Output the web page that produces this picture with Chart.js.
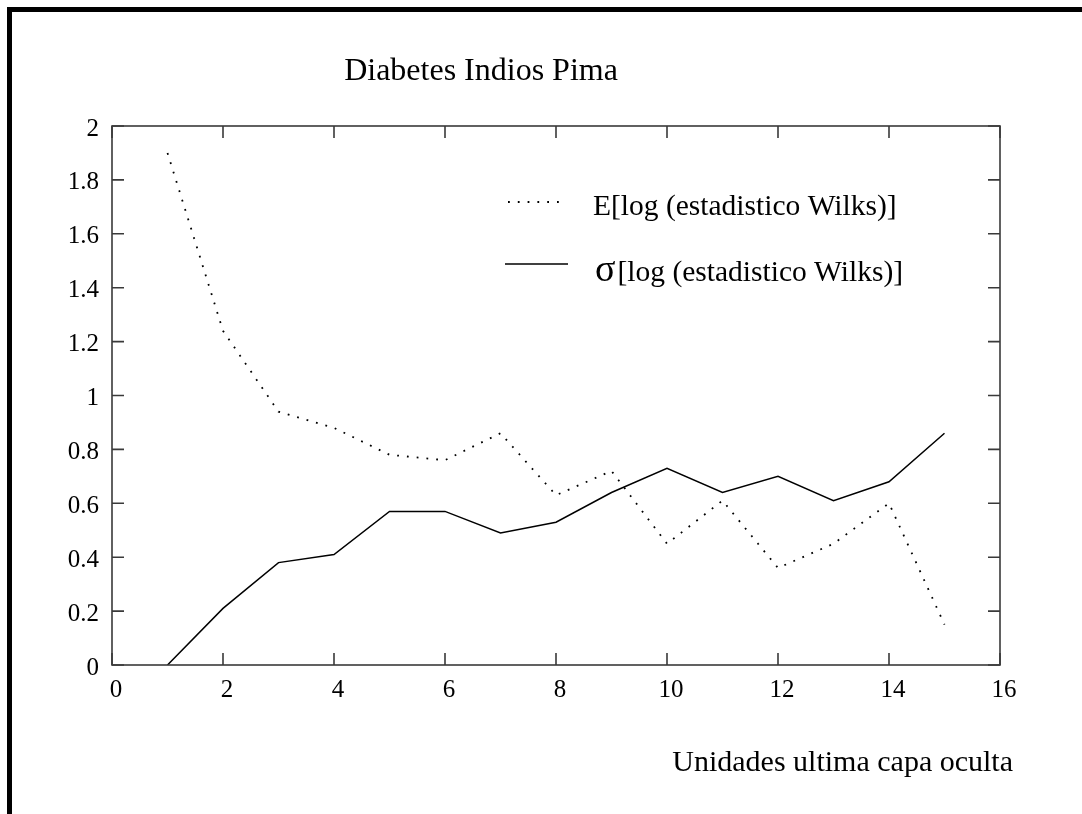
<!DOCTYPE html>
<html>
<head>
<meta charset="utf-8">
<title>Diabetes Indios Pima</title>
<script src="https://cdn.jsdelivr.net/npm/chart.js@4"></script>
<style>
  html, body { margin: 0; padding: 0; background: #ffffff; }
  #wrap { position: relative; width: 1082px; height: 814px; }
  canvas { display: block; }
</style>
</head>
<body>
<div id="wrap"><canvas id="chart" width="1082" height="814"></canvas></div>
<script>
// Hidden units in the last layer (x axis)
const units = [1, 2, 3, 4, 5, 6, 7, 8, 9, 10, 11, 12, 13, 14, 15];
// Mean of log(Wilks statistic)
const meanLogWilks = [1.90, 1.24, 0.94, 0.88, 0.78, 0.76, 0.86, 0.63, 0.72, 0.45, 0.61, 0.36, 0.45, 0.60, 0.15];
// Standard deviation of log(Wilks statistic)
const sdLogWilks = [0.00, 0.21, 0.38, 0.41, 0.57, 0.57, 0.49, 0.53, 0.64, 0.73, 0.64, 0.70, 0.61, 0.68, 0.86];

const titleText = 'Diabetes Indios Pima';
const xTitleText = 'Unidades ultima capa oculta';
const legendMean = 'E[log (estadistico Wilks)]';
const legendSdSymbol = 'σ';
const legendSdText = '[log (estadistico Wilks)]';

const SERIF = '"Liberation Serif", "Times New Roman", Times, serif';
const AXIS_COLOR = '#3a3a3a';
const DOT_DASH = [1.8, 8];

const toPoints = (xs, ys) => xs.map((x, i) => ({ x: x, y: ys[i] }));

// Page frame, title, boxed axes with inward ticks, legend and x title
const decorations = {
  id: 'decorations',
  beforeDraw(chart) {
    const ctx = chart.ctx;
    ctx.save();
    ctx.fillStyle = '#ffffff';
    ctx.fillRect(0, 0, chart.width, chart.height);
    ctx.fillStyle = '#000000';
    ctx.fillRect(7, 7, chart.width - 7, 5);
    ctx.fillRect(7, 7, 5, chart.height - 7);
    ctx.restore();
  },
  afterDraw(chart) {
    const ctx = chart.ctx;
    const a = chart.chartArea;
    const xs = chart.scales.x;
    const ys = chart.scales.y;
    const tick = 12;

    ctx.save();
    // box around the plot
    ctx.strokeStyle = AXIS_COLOR;
    ctx.lineWidth = 1.6;
    ctx.strokeRect(a.left, a.top, a.right - a.left, a.bottom - a.top);

    // inward ticks on all four sides
    ctx.beginPath();
    xs.ticks.forEach(t => {
      const px = xs.getPixelForValue(t.value);
      ctx.moveTo(px, a.bottom); ctx.lineTo(px, a.bottom - tick);
      ctx.moveTo(px, a.top); ctx.lineTo(px, a.top + tick);
    });
    ys.ticks.forEach(t => {
      const py = ys.getPixelForValue(t.value);
      ctx.moveTo(a.left, py); ctx.lineTo(a.left + tick, py);
      ctx.moveTo(a.right, py); ctx.lineTo(a.right - tick, py);
    });
    ctx.stroke();

    // title
    ctx.fillStyle = '#000000';
    ctx.font = '32px ' + SERIF;
    ctx.textAlign = 'center';
    ctx.textBaseline = 'alphabetic';
    ctx.fillText(titleText, 481, 80);

    // x axis title
    ctx.font = '30px ' + SERIF;
    ctx.textAlign = 'right';
    ctx.fillText(xTitleText, 1013, 771);

    // legend
    const ds0 = chart.data.datasets[0];
    const ds1 = chart.data.datasets[1];
    ctx.strokeStyle = ds0.borderColor;
    ctx.lineWidth = ds0.borderWidth;
    ctx.setLineDash(ds0.borderDash);
    ctx.beginPath();
    ctx.moveTo(508, 202); ctx.lineTo(564, 202);
    ctx.stroke();
    ctx.setLineDash([]);
    ctx.strokeStyle = ds1.borderColor;
    ctx.lineWidth = ds1.borderWidth;
    ctx.beginPath();
    ctx.moveTo(505, 264); ctx.lineTo(568, 264);
    ctx.stroke();

    ctx.textAlign = 'left';
    ctx.font = '29.5px ' + SERIF;
    ctx.fillText(legendMean, 593, 215);
    ctx.font = '38px ' + SERIF;
    ctx.fillText(legendSdSymbol, 595, 281);
    const w = ctx.measureText(legendSdSymbol).width;
    ctx.font = '29.5px ' + SERIF;
    ctx.fillText(legendSdText, 595 + w + 2, 281);
    ctx.restore();
  }
};

new Chart(document.getElementById('chart'), {
  type: 'line',
  data: {
    datasets: [
      {
        label: legendMean,
        data: toPoints(units, meanLogWilks),
        borderColor: '#000000',
        borderWidth: 1.8,
        borderDash: DOT_DASH,
        pointRadius: 0,
        fill: false,
        tension: 0
      },
      {
        label: legendSdSymbol + legendSdText,
        data: toPoints(units, sdLogWilks),
        borderColor: '#000000',
        borderWidth: 1.5,
        pointRadius: 0,
        fill: false,
        tension: 0
      }
    ]
  },
  options: {
    responsive: false,
    animation: false,
    events: [],
    layout: { padding: { left: 0, right: 82, top: 126, bottom: 99 } },
    plugins: {
      legend: { display: false },
      title: { display: false },
      tooltip: { enabled: false }
    },
    scales: {
      x: {
        type: 'linear',
        min: 0,
        max: 16,
        ticks: {
          stepSize: 2,
          padding: 10,
          labelOffset: 4,
          color: '#000000',
          font: { family: SERIF, size: 25 }
        },
        grid: { display: false, drawTicks: false },
        border: { display: false },
        afterFit: s => { s.height = 50; }
      },
      y: {
        type: 'linear',
        min: 0,
        max: 2,
        ticks: {
          stepSize: 0.2,
          padding: 13,
          labelOffset: 3,
          color: '#000000',
          font: { family: SERIF, size: 25 },
          callback: v => String(Math.round(v * 10) / 10)
        },
        grid: { display: false, drawTicks: false },
        border: { display: false },
        afterFit: s => { s.width = 112; }
      }
    }
  },
  plugins: [decorations]
});
</script>
</body>
</html>
